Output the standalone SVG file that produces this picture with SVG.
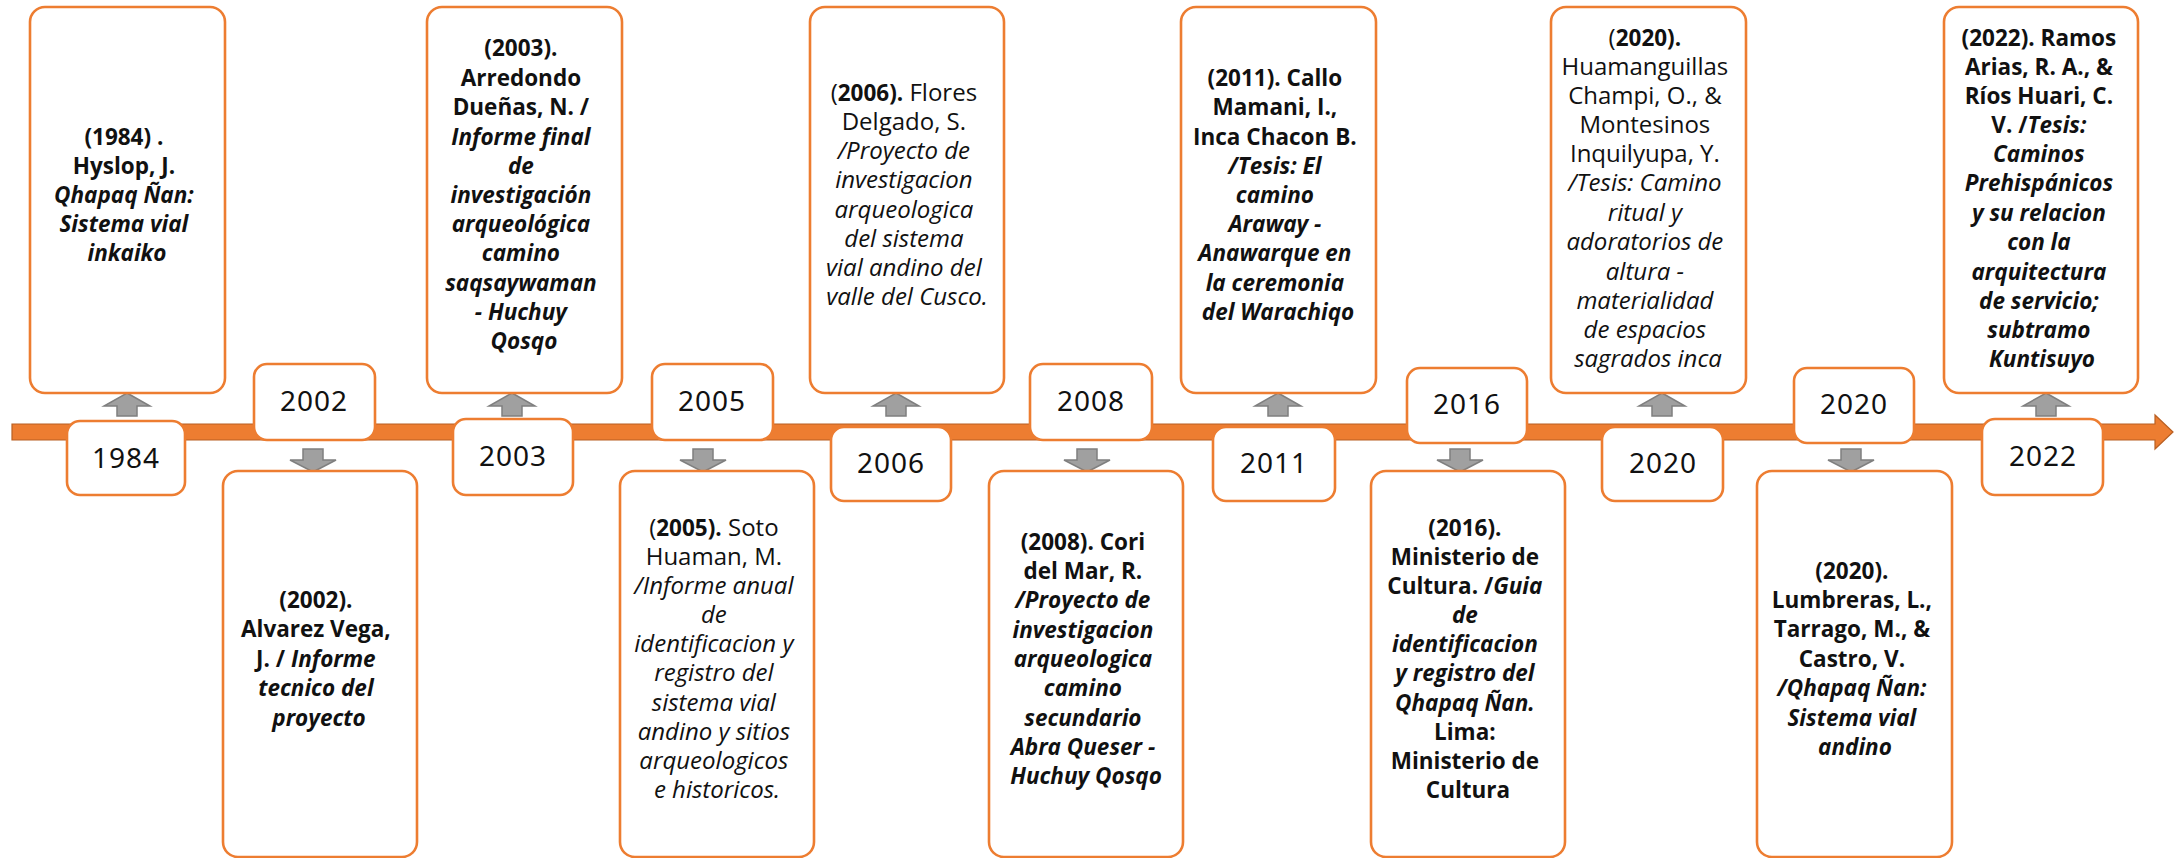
<svg xmlns="http://www.w3.org/2000/svg" width="2178" height="858" viewBox="0 0 2178 858">
<style>
.box{fill:#fff;stroke:#ED7D31;stroke-width:2.6}
.yr{fill:#fff;stroke:#ED7D31;stroke-width:2.6}
.yt{font-family:"Noto Sans","Open Sans",sans-serif;font-size:28px;letter-spacing:1px;fill:#111;text-anchor:middle}
.t{font-family:"Open Sans","Liberation Sans",sans-serif;font-size:24px;fill:#111;text-anchor:middle}
.b{font-weight:bold;font-size:22.5px}
.i{font-style:italic}
.arr{fill:#A0A0A0;stroke:#7F7F7F;stroke-width:1.5}
.bar{fill:#ED7D31;stroke:#B85F22;stroke-width:1.2}
</style>
<defs>
<path id="up" d="M0,0 L23,13 L10,13 L10,23 L-10,23 L-10,13 L-23,13 Z"/>
<path id="dn" d="M0,0 L23,-12 L10,-12 L10,-23 L-10,-23 L-10,-12 L-23,-12 Z"/>
</defs>

<g id="timeline">
<path class="bar" d="M12,424 L2155,424 L2155,415 L2173,432 L2155,449 L2155,440 L12,440 Z"/>
</g>

<g id="connectors">
<use href="#up" class="arr" x="127" y="393"/>
<use href="#up" class="arr" x="512" y="393"/>
<use href="#up" class="arr" x="896" y="393"/>
<use href="#up" class="arr" x="1278" y="393"/>
<use href="#up" class="arr" x="1662" y="393"/>
<use href="#up" class="arr" x="2046" y="393"/>
<use href="#dn" class="arr" x="313" y="472"/>
<use href="#dn" class="arr" x="703" y="472"/>
<use href="#dn" class="arr" x="1087" y="472"/>
<use href="#dn" class="arr" x="1460" y="472"/>
<use href="#dn" class="arr" x="1851" y="472"/>
</g>

<g id="y1984"><rect class="yr" x="67" y="421" width="118" height="74" rx="13"/><text class="yt" x="126" y="468">1984</text></g>
<g id="y2002"><rect class="yr" x="254" y="364" width="121" height="76" rx="13"/><text class="yt" x="314" y="411">2002</text></g>
<g id="y2003"><rect class="yr" x="453" y="419" width="120" height="76" rx="13"/><text class="yt" x="513" y="466">2003</text></g>
<g id="y2005"><rect class="yr" x="652" y="364" width="121" height="76" rx="13"/><text class="yt" x="712" y="411">2005</text></g>
<g id="y2006"><rect class="yr" x="831" y="427" width="120" height="74" rx="13"/><text class="yt" x="891" y="473">2006</text></g>
<g id="y2008"><rect class="yr" x="1030" y="364" width="122" height="76" rx="13"/><text class="yt" x="1091" y="411">2008</text></g>
<g id="y2011"><rect class="yr" x="1213" y="427" width="122" height="74" rx="13"/><text class="yt" x="1274" y="473">2011</text></g>
<g id="y2016"><rect class="yr" x="1407" y="368" width="120" height="75" rx="13"/><text class="yt" x="1467" y="414">2016</text></g>
<g id="y2020a"><rect class="yr" x="1602" y="427" width="121" height="74" rx="13"/><text class="yt" x="1663" y="473">2020</text></g>
<g id="y2020b"><rect class="yr" x="1794" y="368" width="120" height="75" rx="13"/><text class="yt" x="1854" y="414">2020</text></g>
<g id="y2022"><rect class="yr" x="1982" y="419" width="121" height="76" rx="13"/><text class="yt" x="2043" y="466">2022</text></g>

<g id="n1984">
<rect class="box" x="30" y="7" width="195" height="386" rx="15"/>
<text class="t">
<tspan class="b" x="127" y="145">(1984) .</tspan>
<tspan class="b" x="127" y="174">Hyslop, J.</tspan>
<tspan class="b i" x="127" y="203">Qhapaq Ñan:</tspan>
<tspan class="b i" x="127" y="232">Sistema vial</tspan>
<tspan class="b i" x="127" y="261">inkaiko</tspan>
</text>
</g>

<g id="n2003">
<rect class="box" x="427" y="7" width="195" height="386" rx="15"/>
<text class="t">
<tspan class="b" x="524" y="56">(2003).</tspan>
<tspan class="b" x="524" y="86">Arredondo</tspan>
<tspan class="b" x="524" y="115">Dueñas, N. /</tspan>
<tspan class="b i" x="524" y="145">Informe final</tspan>
<tspan class="b i" x="524" y="174">de</tspan>
<tspan class="b i" x="524" y="203">investigación</tspan>
<tspan class="b i" x="524" y="232">arqueológica</tspan>
<tspan class="b i" x="524" y="261">camino</tspan>
<tspan class="b i" x="524" y="291">saqsaywaman</tspan>
<tspan class="b i" x="524" y="320">- Huchuy</tspan>
<tspan class="b i" x="524" y="349">Qosqo</tspan>
</text>
</g>

<g id="n2006">
<rect class="box" x="810" y="7" width="194" height="386" rx="15"/>
<text class="t">
<tspan x="907" y="101">(<tspan class="b">2006).</tspan> Flores</tspan>
<tspan x="907" y="130">Delgado, S.</tspan>
<tspan class="i" x="907" y="159">/Proyecto de</tspan>
<tspan class="i" x="907" y="188">investigacion</tspan>
<tspan class="i" x="907" y="218">arqueologica</tspan>
<tspan class="i" x="907" y="247">del sistema</tspan>
<tspan class="i" x="907" y="276">vial andino del</tspan>
<tspan class="i" x="907" y="305">valle del Cusco.</tspan>
</text>
</g>

<g id="n2011">
<rect class="box" x="1181" y="7" width="195" height="386" rx="15"/>
<text class="t">
<tspan class="b" x="1278" y="86">(2011). Callo</tspan>
<tspan class="b" x="1278" y="115">Mamani, I.,</tspan>
<tspan class="b" x="1278" y="145">Inca Chacon B.</tspan>
<tspan class="b i" x="1278" y="174">/Tesis: El</tspan>
<tspan class="b i" x="1278" y="203">camino</tspan>
<tspan class="b i" x="1278" y="232">Araway -</tspan>
<tspan class="b i" x="1278" y="261">Anawarque en</tspan>
<tspan class="b i" x="1278" y="291">la ceremonia</tspan>
<tspan class="b i" x="1278" y="320">del Warachiqo</tspan>
</text>
</g>

<g id="n2020a">
<rect class="box" x="1551" y="7" width="195" height="386" rx="15"/>
<text class="t">
<tspan x="1648" y="46">(<tspan class="b">2020).</tspan></tspan>
<tspan x="1648" y="75">Huamanguillas</tspan>
<tspan x="1648" y="104">Champi, O., &amp;</tspan>
<tspan x="1648" y="133">Montesinos</tspan>
<tspan x="1648" y="162">Inquilyupa, Y.</tspan>
<tspan class="i" x="1648" y="191">/Tesis: Camino</tspan>
<tspan class="i" x="1648" y="221">ritual y</tspan>
<tspan class="i" x="1648" y="250">adoratorios de</tspan>
<tspan class="i" x="1648" y="280">altura -</tspan>
<tspan class="i" x="1648" y="309">materialidad</tspan>
<tspan class="i" x="1648" y="338">de espacios</tspan>
<tspan class="i" x="1648" y="367">sagrados inca</tspan>
</text>
</g>

<g id="n2022">
<rect class="box" x="1944" y="7" width="194" height="386" rx="15"/>
<text class="t">
<tspan class="b" x="2042" y="46">(2022). Ramos</tspan>
<tspan class="b" x="2042" y="75">Arias, R. A., &amp;</tspan>
<tspan class="b" x="2042" y="104">Ríos Huari, C.</tspan>
<tspan class="b" x="2042" y="133">V. /<tspan class="i">Tesis:</tspan></tspan>
<tspan class="b i" x="2042" y="162">Caminos</tspan>
<tspan class="b i" x="2042" y="191">Prehispánicos</tspan>
<tspan class="b i" x="2042" y="221">y su relacion</tspan>
<tspan class="b i" x="2042" y="250">con la</tspan>
<tspan class="b i" x="2042" y="280">arquitectura</tspan>
<tspan class="b i" x="2042" y="309">de servicio;</tspan>
<tspan class="b i" x="2042" y="338">subtramo</tspan>
<tspan class="b i" x="2042" y="367">Kuntisuyo</tspan>
</text>
</g>

<g id="n2002">
<rect class="box" x="223" y="471" width="194" height="386" rx="15"/>
<text class="t">
<tspan class="b" x="319" y="608">(2002).</tspan>
<tspan class="b" x="319" y="637">Alvarez Vega,</tspan>
<tspan class="b" x="319" y="667">J. / <tspan class="i">Informe</tspan></tspan>
<tspan class="b i" x="319" y="696">tecnico del</tspan>
<tspan class="b i" x="319" y="726">proyecto</tspan>
</text>
</g>

<g id="n2005">
<rect class="box" x="620" y="471" width="194" height="386" rx="15"/>
<text class="t">
<tspan x="717" y="536">(<tspan class="b">2005).</tspan> Soto</tspan>
<tspan x="717" y="565">Huaman, M.</tspan>
<tspan class="i" x="717" y="594">/Informe anual</tspan>
<tspan class="i" x="717" y="623">de</tspan>
<tspan class="i" x="717" y="652">identificacion y</tspan>
<tspan class="i" x="717" y="681">registro del</tspan>
<tspan class="i" x="717" y="711">sistema vial</tspan>
<tspan class="i" x="717" y="740">andino y sitios</tspan>
<tspan class="i" x="717" y="769">arqueologicos</tspan>
<tspan class="i" x="717" y="798">e historicos.</tspan>
</text>
</g>

<g id="n2008">
<rect class="box" x="989" y="471" width="194" height="386" rx="15"/>
<text class="t">
<tspan class="b" x="1086" y="550">(2008). Cori</tspan>
<tspan class="b" x="1086" y="579">del Mar, R.</tspan>
<tspan class="b i" x="1086" y="608">/Proyecto de</tspan>
<tspan class="b i" x="1086" y="638">investigacion</tspan>
<tspan class="b i" x="1086" y="667">arqueologica</tspan>
<tspan class="b i" x="1086" y="696">camino</tspan>
<tspan class="b i" x="1086" y="726">secundario</tspan>
<tspan class="b i" x="1086" y="755">Abra Queser -</tspan>
<tspan class="b i" x="1086" y="784">Huchuy Qosqo</tspan>
</text>
</g>

<g id="n2016">
<rect class="box" x="1371" y="471" width="194" height="386" rx="15"/>
<text class="t">
<tspan class="b" x="1468" y="536">(2016).</tspan>
<tspan class="b" x="1468" y="565">Ministerio de</tspan>
<tspan class="b" x="1468" y="594">Cultura. /<tspan class="i">Guia</tspan></tspan>
<tspan class="b i" x="1468" y="623">de</tspan>
<tspan class="b i" x="1468" y="652">identificacion</tspan>
<tspan class="b i" x="1468" y="681">y registro del</tspan>
<tspan class="b i" x="1468" y="711">Qhapaq Ñan.</tspan>
<tspan class="b" x="1468" y="740">Lima:</tspan>
<tspan class="b" x="1468" y="769">Ministerio de</tspan>
<tspan class="b" x="1468" y="798">Cultura</tspan>
</text>
</g>

<g id="n2020b">
<rect class="box" x="1757" y="471" width="195" height="386" rx="15"/>
<text class="t">
<tspan class="b" x="1855" y="579">(2020).</tspan>
<tspan class="b" x="1855" y="608">Lumbreras, L.,</tspan>
<tspan class="b" x="1855" y="637">Tarrago, M., &amp;</tspan>
<tspan class="b" x="1855" y="667">Castro, V.</tspan>
<tspan class="b i" x="1855" y="696">/Qhapaq Ñan:</tspan>
<tspan class="b i" x="1855" y="726">Sistema vial</tspan>
<tspan class="b i" x="1855" y="755">andino</tspan>
</text>
</g>
</svg>
